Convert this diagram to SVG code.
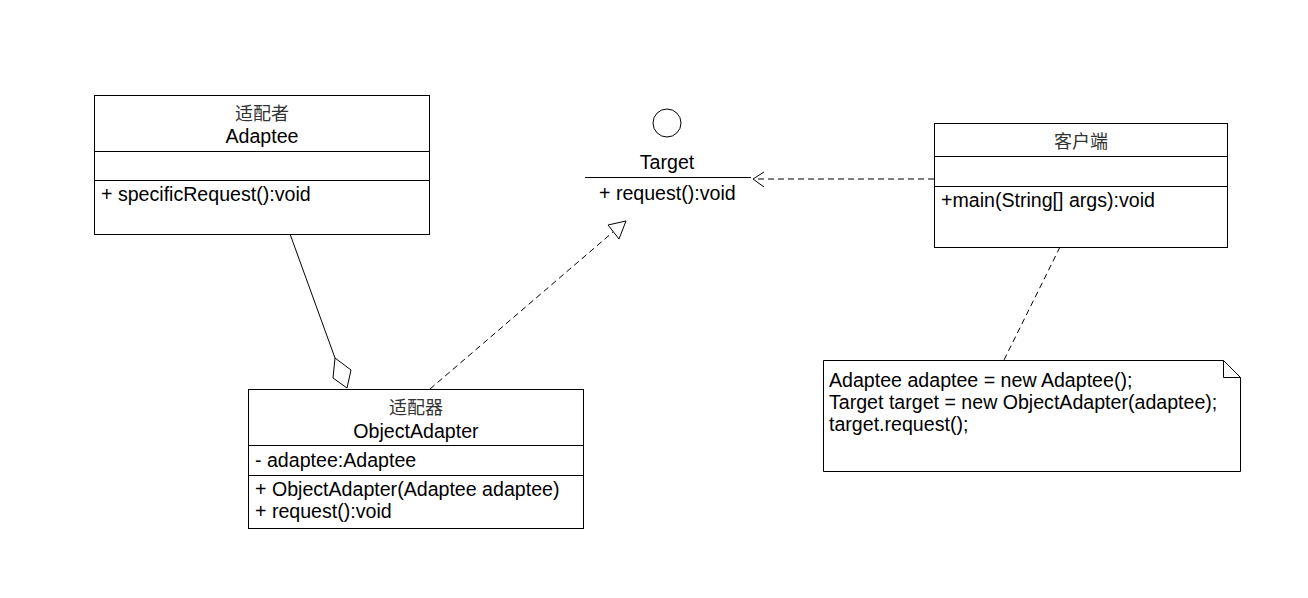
<svg xmlns="http://www.w3.org/2000/svg" width="1308" height="598" viewBox="0 0 1308 598">
<style>
.box{fill:#fff;stroke:#000;stroke-width:1}
.ln{stroke:#000;stroke-width:1;fill:none}
.dash{stroke:#000;stroke-width:1;fill:none;stroke-dasharray:6,4}
text{font-family:"Liberation Sans",Arial,"Noto Sans CJK SC",sans-serif;font-size:19.6px;fill:#000}
.cjk{font-family:"Noto Sans CJK SC","Liberation Sans",sans-serif;font-size:18px;fill:#333}
.c{text-anchor:middle}
</style>
<rect width="1308" height="598" fill="#fff"/>
<g id="connectors">
<line class="ln" x1="290" y1="234" x2="335" y2="358"/>
<polygon class="box" points="335,358 351,370 347,388 333,378"/>
<line class="dash" x1="430" y1="389" x2="613" y2="232"/>
<polygon class="box" points="626,221 608,225 619,239"/>
<line class="dash" x1="934" y1="179" x2="754" y2="179"/>
<polyline class="ln" points="764,172 753,179 764,187"/>
<line class="dash" x1="1060" y1="247" x2="1004" y2="360"/>
</g>
<g id="adaptee">
<rect class="box" x="94.5" y="95.5" width="335" height="139"/>
<line class="ln" x1="94.5" y1="151.5" x2="429.5" y2="151.5"/>
<line class="ln" x1="94.5" y1="180.5" x2="429.5" y2="180.5"/>
<text class="cjk c" x="262" y="120">适配者</text>
<text class="c" x="262" y="143">Adaptee</text>
<text x="101" y="201">+ specificRequest():void</text>
</g>
<g id="target">
<circle class="ln" cx="667" cy="123" r="14"/>
<text class="c" x="667" y="169">Target</text>
<line class="ln" x1="585" y1="177.5" x2="751" y2="177.5"/>
<text x="599" y="200">+ request():void</text>
</g>
<g id="client">
<rect class="box" x="934.5" y="123.5" width="293" height="124"/>
<line class="ln" x1="934.5" y1="156.5" x2="1227.5" y2="156.5"/>
<line class="ln" x1="934.5" y1="186.5" x2="1227.5" y2="186.5"/>
<text class="cjk c" x="1081" y="148">客户端</text>
<text x="941" y="207">+main(String[] args):void</text>
</g>
<g id="objectAdapter">
<rect class="box" x="248.5" y="389.5" width="335" height="139"/>
<line class="ln" x1="248.5" y1="445.5" x2="583.5" y2="445.5"/>
<line class="ln" x1="248.5" y1="475.5" x2="583.5" y2="475.5"/>
<text class="cjk c" x="416" y="414">适配器</text>
<text class="c" x="416" y="438">ObjectAdapter</text>
<text x="255" y="467">- adaptee:Adaptee</text>
<text x="255" y="496">+ ObjectAdapter(Adaptee adaptee)</text>
<text x="255" y="518">+ request():void</text>
</g>
<g id="note">
<path class="box" d="M823.5,360.5 H1223.5 L1240.5,377.5 V471.5 H823.5 Z"/>
<polyline class="ln" points="1223.5,360.5 1223.5,377.5 1240.5,377.5"/>
<text x="829" y="387">Adaptee adaptee = new Adaptee();</text>
<text x="829" y="409">Target target = new ObjectAdapter(adaptee);</text>
<text x="829" y="431">target.request();</text>
</g>
</svg>
